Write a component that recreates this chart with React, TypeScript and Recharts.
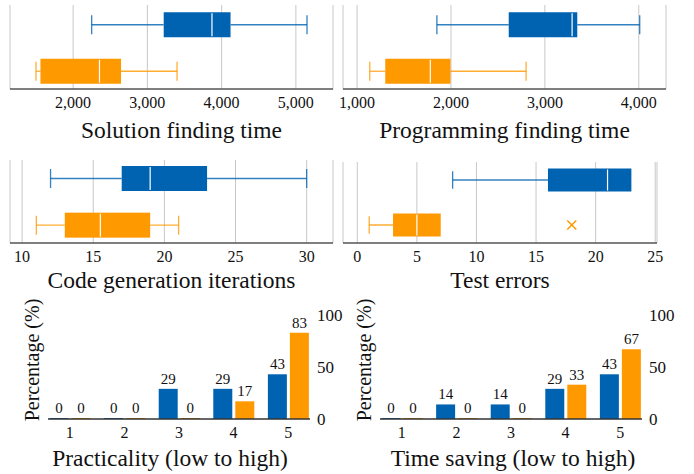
import { BarChart, Bar, XAxis, YAxis, CartesianGrid, LabelList } from 'recharts'

const BLUE = '#0063b1'
const ORANGE = '#ff9900'
const INK = '#111111'
const FONT = '"Liberation Serif", "Times New Roman", serif'

// box stats: [min, q1, median, q3, max]
const solutionBlue = [2250, 3220, 3870, 4120, 5150]
const solutionOrange = [1500, 1560, 2355, 2645, 3400]
const solutionTicks = [2000, 3000, 4000, 5000]

const programmingBlue = [1850, 2615, 3290, 3345, 4010]
const programmingOrange = [1135, 1300, 1780, 1995, 2800]
const programmingTicks = [1000, 2000, 3000, 4000]

const iterationsBlue = [12, 17, 19, 23, 30]
const iterationsOrange = [11, 13, 15.5, 19, 21]
const iterationsTicks = [10, 15, 20, 25, 30]

const errorsBlue = [8, 16, 21, 23, 23]
const errorsOrange = [1, 3, 5, 7, 7]
const errorsOrangeOutliers = [18]
const errorsTicks = [0, 5, 10, 15, 20, 25]

// survey answers, percentage per rating
const ratings = [1, 2, 3, 4, 5]
const practicalityBlue = [0, 0, 29, 29, 43]
const practicalityOrange = [0, 0, 0, 17, 83]
const timeSavingBlue = [0, 14, 14, 29, 43]
const timeSavingOrange = [0, 0, 0, 33, 67]
const percentTicks = [0, 50, 100]

function boxRow(name: string, stats: number[], color: string, outliers: number[] = []) {
  const [min, q1, median, q3, max] = stats
  return {
    name, min, q1, median, q3, max, outliers, color,
    span: [Math.min(min, ...outliers), Math.max(max, ...outliers)],
  }
}

function BoxShape(props: any) {
  const { x, y, width, height, payload } = props
  const [lo, hi] = payload.span
  const px = (v: number) => x + ((v - lo) / (hi - lo)) * width
  const cy = y + height / 2
  const cap = height * 0.38
  const c = payload.color
  return (
    <g>
      {payload.min < payload.q1 && (
        <g stroke={c} strokeOpacity={0.8} strokeWidth={1.3}>
          <line x1={px(payload.min)} x2={px(payload.q1)} y1={cy} y2={cy} />
          <line x1={px(payload.min)} x2={px(payload.min)} y1={cy - cap} y2={cy + cap} />
        </g>
      )}
      {payload.max > payload.q3 && (
        <g stroke={c} strokeOpacity={0.8} strokeWidth={1.3}>
          <line x1={px(payload.q3)} x2={px(payload.max)} y1={cy} y2={cy} />
          <line x1={px(payload.max)} x2={px(payload.max)} y1={cy - cap} y2={cy + cap} />
        </g>
      )}
      <rect x={px(payload.q1)} y={y} width={px(payload.q3) - px(payload.q1)} height={height} fill={c} />
      <line x1={px(payload.median)} x2={px(payload.median)} y1={y + 1} y2={y + height - 1} stroke="#fff" strokeWidth={1.2} />
      {payload.outliers.map((o: number) => (
        <g key={o} stroke={c} strokeWidth={1.5}>
          <line x1={px(o) - 4.5} x2={px(o) + 4.5} y1={cy - 4.5} y2={cy + 4.5} />
          <line x1={px(o) - 4.5} x2={px(o) + 4.5} y1={cy + 4.5} y2={cy - 4.5} />
        </g>
      ))}
    </g>
  )
}

function BoxPanel(p: any) {
  const data = [p.blue, p.orange]
  return (
    <div style={{ position: 'absolute', left: p.left, top: p.top }}>
      <BarChart width={p.width} height={150} data={data} layout="vertical" margin={p.margin} style={{ fontFamily: FONT }}>
        <CartesianGrid horizontal={false} stroke="#c8c8c8" />
        <XAxis
          type="number"
          domain={p.domain}
          ticks={p.ticks}
          allowDataOverflow
          interval={0}
          height={p.axisHeight}
          tickLine={false}
          axisLine={{ stroke: '#555', strokeWidth: 1.5 }}
          tick={{ fontSize: 16, fill: INK, fontFamily: FONT }}
          tickFormatter={(v: number) => v.toLocaleString('en-US')}
          label={{ value: p.title, position: 'insideBottom', offset: 12, fontSize: 23.5, fill: INK, fontFamily: FONT, dx: p.titleDx || 0 }}
        />
        <YAxis type="category" dataKey="name" hide padding={p.pad} />
        <Bar dataKey="span" barSize={p.barSize} shape={BoxShape} isAnimationActive={false} />
      </BarChart>
    </div>
  )
}

function RatingPanel(p: any) {
  const data = ratings.map((r, i) => ({ rating: r, blue: p.blue[i], orange: p.orange[i] }))
  return (
    <div style={{ position: 'absolute', left: p.left, top: 296 }}>
      <BarChart width={p.width} height={178} data={data} barGap={3} margin={{ top: 19, right: p.right, left: 0, bottom: 0 }} style={{ fontFamily: FONT }}>
        <XAxis
          type="number"
          dataKey="rating"
          domain={[0.6, 5.4]}
          ticks={ratings}
          allowDataOverflow
          interval={0}
          height={55}
          tickLine={false}
          axisLine={{ stroke: '#333', strokeWidth: 1.5 }}
          tick={{ fontSize: 16, fill: INK, fontFamily: FONT }}
          label={{ value: p.title, position: 'insideBottom', offset: 8, fontSize: 23.5, fill: INK, fontFamily: FONT, dx: p.titleDx || 0 }}
        />
        <YAxis
          yAxisId="l"
          orientation="left"
          width={p.leftWidth}
          tick={false}
          tickLine={false}
          axisLine={false}
          label={{ value: 'Percentage (%)', angle: -90, position: 'center', fontSize: 20, fill: INK, fontFamily: FONT, dx: p.labelDx, dy: -7 }}
        />
        <YAxis
          yAxisId="r"
          orientation="right"
          width={36}
          domain={[0, 100]}
          ticks={percentTicks}
          interval={0}
          tickLine={false}
          axisLine={false}
          tickMargin={1}
          tick={{ fontSize: 17, fill: INK, fontFamily: FONT }}
        />
        <Bar yAxisId="r" dataKey="blue" fill={BLUE} barSize={19} minPointSize={1} isAnimationActive={false}>
          <LabelList dataKey="blue" position="top" offset={5} fontSize={15} fill={INK} fontFamily={FONT} />
        </Bar>
        <Bar yAxisId="r" dataKey="orange" fill={ORANGE} barSize={19} minPointSize={1} isAnimationActive={false}>
          <LabelList dataKey="orange" position="top" offset={5} fontSize={15} fill={INK} fontFamily={FONT} />
        </Bar>
      </BarChart>
    </div>
  )
}

export default function App() {
  return (
    <div style={{ position: 'absolute', left: 0, top: 0, width: 694, height: 474, background: '#fff', fontFamily: FONT }}>
      <BoxPanel
        left={0} top={0} width={340}
        margin={{ top: 5, right: 7, left: 10, bottom: 0 }}
        axisHeight={61}
        pad={{ top: -3.75, bottom: -5.25 }}
        barSize={25}
        domain={[1150, 5500]}
        ticks={solutionTicks}
        blue={boxRow('blue', solutionBlue, BLUE)}
        orange={boxRow('orange', solutionOrange, ORANGE)}
        title="Solution finding time"
        titleDx={10}
      />
      <BoxPanel
        left={336} top={0} width={358}
        margin={{ top: 5, right: 28, left: 7, bottom: 0 }}
        axisHeight={61}
        pad={{ top: -3.75, bottom: -5.25 }}
        barSize={25}
        domain={[850, 4290]}
        ticks={programmingTicks}
        blue={boxRow('blue', programmingBlue, BLUE)}
        orange={boxRow('orange', programmingOrange, ORANGE)}
        title="Programming finding time"
      />
      <BoxPanel
        left={0} top={150} width={340}
        margin={{ top: 10, right: 7, left: 10, bottom: 0 }}
        axisHeight={57}
        pad={{ top: -5, bottom: -5.3 }}
        barSize={25}
        domain={[9.15, 31.85]}
        ticks={iterationsTicks}
        blue={boxRow('blue', iterationsBlue, BLUE)}
        orange={boxRow('orange', iterationsOrange, ORANGE)}
        title="Code generation iterations"
      />
      <BoxPanel
        left={336} top={150} width={358}
        margin={{ top: 12, right: 37, left: 7, bottom: 0 }}
        axisHeight={57}
        pad={{ top: -4.5, bottom: -4.5 }}
        barSize={23}
        domain={[-1.2, 25.15]}
        ticks={errorsTicks}
        blue={boxRow('blue', errorsBlue, BLUE)}
        orange={boxRow('orange', errorsOrange, ORANGE, errorsOrangeOutliers)}
        title="Test errors"
      />
      <RatingPanel
        left={0} width={346} right={0} leftWidth={48} labelDx={8}
        blue={practicalityBlue} orange={practicalityOrange}
        title="Practicality (low to high)" titleDx={-9}
      />
      <RatingPanel
        left={340} width={354} right={16} leftWidth={40} labelDx={4}
        blue={timeSavingBlue} orange={timeSavingOrange}
        title="Time saving (low to high)" titleDx={2}
      />
    </div>
  )
}
